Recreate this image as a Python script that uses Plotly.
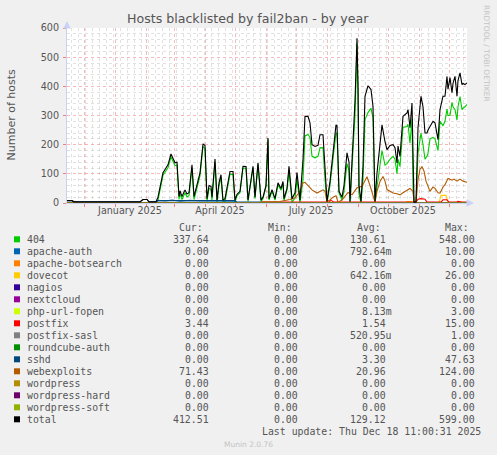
import datetime as dt
import plotly.graph_objects as go

# ---------------- data ----------------
START = dt.datetime(2024, 11, 14)
SPAN_DAYS = 400

field_names = ["404", "apache-auth", "apache-botsearch", "dovecot", "nagios", "nextcloud",
               "php-url-fopen", "postfix", "postfix-sasl", "roundcube-auth", "sshd",
               "webexploits", "wordpress", "wordpress-hard", "wordpress-soft", "total"]
field_colors = ["#00CC00", "#0066B3", "#FF8000", "#FFCC00", "#330099", "#990099",
                "#CCFF00", "#FF0000", "#808080", "#008F00", "#00487D",
                "#B35A00", "#B38F00", "#6B006B", "#8FB300", "#000000"]
cur_vals = ["337.64", "0.00", "0.00", "0.00", "0.00", "0.00", "0.00", "3.44", "0.00",
            "0.00", "0.00", "71.43", "0.00", "0.00", "0.00", "412.51"]
min_vals = ["0.00"] * 16
avg_vals = ["130.61", "792.64m", "0.00", "642.16m", "0.00", "0.00", "8.13m", "1.54",
            "520.95u", "0.00", "3.30", "20.96", "0.00", "0.00", "0.00", "129.12"]
max_vals = ["548.00", "10.00", "0.00", "26.00", "0.00", "0.00", "3.00", "15.00", "1.00",
            "0.00", "47.63", "124.00", "0.00", "0.00", "0.00", "599.00"]

# day offsets (from START) shared by total and 404
main_days = [0, 5, 7, 73, 76, 80, 82, 89, 91, 96, 101, 104, 108, 110, 112, 113, 115, 118, 120,
             122, 125, 127, 133, 136, 138, 140, 142, 144, 145, 148, 150, 152, 154, 156, 158,
             163, 166, 168, 170, 173, 176, 179, 181, 185, 186, 188, 191, 194, 196, 199, 201,
             202, 205, 208, 211, 214, 216, 217, 220, 222, 225, 228, 230, 233, 236, 238, 241,
             243, 245, 248, 251, 253, 256, 258, 260, 263, 266, 269, 270, 272, 275, 277, 280,
             282, 283, 286, 288, 290, 291, 292, 294, 296, 298, 301, 304, 306, 308, 310, 313,
             315, 318, 320, 323, 326, 328, 330, 331, 333, 336, 338, 340, 341, 343, 345, 346,
             347, 349, 351, 354, 356, 358, 360, 361, 363, 366, 368, 370, 371, 373, 376, 378,
             380, 381, 383, 385, 386, 388, 390, 391, 393, 395, 396, 398, 400]
total_vals = [8, 8, 4, 4, 12, 12, 4, 4, 20, 104, 131, 168, 138, 140, 22, 42, 22, 45, 31,
              35, 131, 22, 103, 203, 197, 15, 60, 57, 20, 151, 10, 69, 97, 10, 15,
              108, 108, 10, 30, 40, 126, 125, 10, 91, 126, 20, 138, 10, 20, 60, 223,
              15, 46, 15, 69, 50, 74, 15, 50, 126, 15, 35, 104, 10, 148, 297, 297,
              275, 200, 194, 198, 234, 234, 121, 5, 74, 183, 268, 265, 40, 20, 60, 172,
              140, 5, 200, 350, 565, 400, 60, 5, 126, 366, 402, 389, 331, 5, 103, 200,
              268, 210, 183, 197, 200, 190, 137, 195, 160, 297, 302, 309, 320, 258, 343, 100,
              3, 3, 258, 366, 330, 240, 240, 250, 263, 280, 275, 240, 217, 320, 366, 366,
              434, 390, 430, 378, 410, 434, 366, 420, 446, 406, 410, 406, 412]
n404_vals = [0, 0, 0, 0, 0, 0, 0, 0, 10, 95, 121, 158, 128, 130, 12, 32, 12, 35, 21,
             25, 121, 12, 93, 193, 187, 5, 50, 47, 10, 141, 2, 59, 87, 2, 5,
             98, 98, 3, 25, 35, 120, 119, 5, 86, 121, 15, 133, 5, 15, 55, 218,
             10, 40, 10, 63, 44, 68, 8, 44, 112, 3, 17, 80, 0, 80, 230, 235,
             225, 160, 155, 160, 189, 190, 80, 0, 62, 160, 240, 240, 35, 10, 40, 135,
             110, 0, 170, 300, 548, 380, 30, 0, 80, 286, 310, 325, 290, 0, 55, 125,
             180, 130, 135, 150, 160, 150, 100, 150, 125, 260, 260, 262, 270, 205, 290, 55,
             0, 0, 170, 240, 200, 150, 160, 170, 220, 225, 220, 190, 180, 280, 265, 280,
             322, 300, 300, 345, 330, 320, 285, 330, 365, 320, 325, 330, 338]

apache_auth_days = [0, 89, 91, 98, 105, 113, 123, 133, 143, 158, 168, 169, 400]
apache_auth_vals = [0, 0, 9, 7, 10, 6, 9, 7, 8, 6, 6, 0, 0]

sshd_days = [0, 5, 7, 73, 76, 80, 82, 89, 90, 168, 170, 194, 196, 400]
sshd_vals = [8, 8, 4, 4, 12, 12, 4, 4, 8, 8, 3, 3, 0, 0]

web_days = [0, 194, 195, 213, 223, 228, 233, 236, 238, 241, 245, 250, 253, 256, 258, 260,
            263, 266, 269, 271, 275, 278, 281, 285, 290, 295, 298, 300, 303, 306, 308, 310,
            313, 316, 318, 320, 323, 326, 330, 333, 336, 340, 343, 346, 347, 349, 351, 353,
            355, 357, 359, 363, 366, 368, 371, 373, 376, 378, 381, 385, 387, 390, 393, 396,
            399, 400]
web_vals = [0, 0, 4, 5, 12, 18, 40, 69, 71, 60, 45, 34, 40, 45, 40, 5,
            10, 20, 25, 3, 10, 25, 36, 28, 52, 57, 80, 90, 60, 30, 3, 40,
            74, 91, 75, 46, 40, 34, 32, 28, 35, 45, 50, 40, 2, 2, 80, 116,
            124, 110, 75, 40, 55, 50, 35, 34, 55, 63, 84, 78, 82, 75, 82, 75,
            71, 71]

postfix_days = [0, 7, 8, 9, 194, 195, 262, 264, 267, 349, 351, 354, 358, 360, 374, 376,
                380, 382, 389, 391, 394, 400]
postfix_vals = [0, 0, 5, 0, 0, 3, 3, 9, 3, 3, 13, 15, 13, 3, 3, 11,
                11, 3, 3, 6, 3, 3.44]

dovecot_days = [0, 338, 340, 344, 346, 372, 374, 379, 381, 390, 392, 394, 396, 400]
dovecot_vals = [0, 0, 5, 5, 0, 0, 26, 26, 0, 0, 5, 5, 0, 0]

zero_days = [0, 400]
zero_vals = [0, 0]

series_data = {
    "404": (main_days, n404_vals),
    "apache-auth": (apache_auth_days, apache_auth_vals),
    "apache-botsearch": (zero_days, zero_vals),
    "dovecot": (dovecot_days, dovecot_vals),
    "nagios": (zero_days, zero_vals),
    "nextcloud": (zero_days, zero_vals),
    "php-url-fopen": (zero_days, zero_vals),
    "postfix": (postfix_days, postfix_vals),
    "postfix-sasl": (zero_days, zero_vals),
    "roundcube-auth": (zero_days, zero_vals),
    "sshd": (sshd_days, sshd_vals),
    "webexploits": (web_days, web_vals),
    "wordpress": (zero_days, zero_vals),
    "wordpress-hard": (zero_days, zero_vals),
    "wordpress-soft": (zero_days, zero_vals),
    "total": (main_days, total_vals),
}

month_labels = ["January 2025", "April 2025", "July 2025", "October 2025"]
month_label_dates = ["2025-01-16", "2025-04-16", "2025-07-16", "2025-10-16"]

# ---------------- figure ----------------
W, H = 497, 455
L, R, T, B = 67, 30, 28, 252
PW, PH = W - L - R, H - T - B


def px(x):
    return (x - L) / PW


def py(y):
    return (H - B - y) / PH


def d2x(d):
    return START + dt.timedelta(days=d)


fig = go.Figure()
for name, color in zip(field_names, field_colors):
    days, vals = series_data[name]
    fig.add_trace(go.Scatter(x=[d2x(d) for d in days], y=vals, mode="lines",
                             line=dict(color=color, width=1.1), name=name,
                             hoverinfo="skip"))
# invisible trace to carry the label axis
fig.add_trace(go.Scatter(x=[d2x(0)], y=[None], xaxis="x2", mode="lines",
                         showlegend=False, hoverinfo="skip"))

xr = [d2x(0), d2x(SPAN_DAYS)]
grid_major = "rgba(240,130,130,0.55)"
grid_minor = "rgba(180,180,180,0.40)"
axis_col = "#C9D2F5"
txt = "#555555"

fig.update_layout(
    width=W, height=H,
    margin=dict(l=L, r=R, t=T, b=B, pad=0),
    paper_bgcolor="#F0F0F0", plot_bgcolor="#FFFFFF",
    showlegend=False,
    font=dict(family="DejaVu Sans", color=txt, size=10),
    xaxis=dict(type="date", range=xr, tickmode="linear", tick0="2024-12-01", dtick="M1",
               showticklabels=False, showgrid=True, gridcolor=grid_major, griddash="dot",
               gridwidth=1, ticks="outside", ticklen=3, tickcolor="#F08080",
               showline=True, linecolor=axis_col, linewidth=1, zeroline=False,
               minor=dict(tick0="2024-11-18", dtick=7 * 86400000, showgrid=True,
                          gridcolor=grid_minor, griddash="dot", gridwidth=1)),
    xaxis2=dict(type="date", range=xr, overlaying="x", anchor="y", side="bottom",
                tickmode="array", tickvals=month_label_dates, ticktext=month_labels,
                showgrid=False, showline=False, zeroline=False, ticks="",
                tickfont=dict(family="DejaVu Sans", size=9.6, color=txt)),
    yaxis=dict(range=[0, 600], tickmode="linear", tick0=0, dtick=100,
               showgrid=True, gridcolor=grid_major, griddash="dot", gridwidth=1,
               ticks="outside", ticklen=3, tickcolor="#F08080",
               showline=True, linecolor=axis_col, linewidth=1, zeroline=False,
               tickfont=dict(family="DejaVu Sans", size=9.6, color=txt),
               ticklabelstandoff=2,
               minor=dict(tick0=0, dtick=20, showgrid=True, gridcolor=grid_minor,
                          griddash="dot", gridwidth=1)),
)

ann = []
# title
ann.append(dict(text="Hosts blacklisted by fail2ban - by year", x=px(247.5), y=py(18.5),
                xref="paper", yref="paper", showarrow=False, xanchor="center",
                yanchor="middle", font=dict(family="DejaVu Sans", size=12.6, color=txt)))
# y axis title
ann.append(dict(text="Number of hosts", x=px(10.5), y=py(115), xref="paper", yref="paper",
                showarrow=False, textangle=-90, xanchor="center", yanchor="middle",
                font=dict(family="DejaVu Sans", size=11, color=txt)))
# vertical rrdtool credit
ann.append(dict(text="RRDTOOL / TOBI OETIKER", x=px(487), y=py(53), xref="paper",
                yref="paper", showarrow=False, textangle=90, xanchor="center",
                yanchor="middle", font=dict(family="DejaVu Sans", size=7.5, color="#C4C4C4")))
# axis arrows
ann.append(dict(x=px(67), y=py(21), xref="paper", yref="paper", ax=0, ay=8, text="",
                showarrow=True, arrowhead=2, arrowsize=1, arrowwidth=1.5,
                arrowcolor=axis_col))
ann.append(dict(x=px(474), y=py(203), xref="paper", yref="paper", ax=-8, ay=0, text="",
                showarrow=True, arrowhead=2, arrowsize=1, arrowwidth=1.5,
                arrowcolor=axis_col))

mono = dict(family="DejaVu Sans Mono", size=9.85, color=txt)
hdr_y = 227.7
for label, xr_ in zip(["Cur:", "Min:", "Avg:", "Max:"], [204.5, 293.5, 382.5, 471]):
    ann.append(dict(text=label, x=px(xr_), y=py(hdr_y), xref="paper", yref="paper",
                    showarrow=False, xanchor="right", yanchor="middle", font=mono))

shapes = []
row0, step = 239.3, 12.0
for i, name in enumerate(field_names):
    yc = row0 + step * i
    shapes.append(dict(type="rect", xref="paper", yref="paper",
                       x0=px(14), x1=px(20), y0=py(yc + 3), y1=py(yc - 3),
                       fillcolor=field_colors[i], line=dict(width=0)))
    ann.append(dict(text=name, x=px(25), y=py(yc), xref="paper", yref="paper",
                    showarrow=False, xanchor="left", yanchor="middle", font=mono))
    for val, xr_ in ((cur_vals[i], 211), (min_vals[i], 299.7)):
        ann.append(dict(text=val, x=px(xr_), y=py(yc), xref="paper", yref="paper",
                        showarrow=False, xanchor="right", yanchor="middle", font=mono))
    a = avg_vals[i]
    a_txt = a if a[-1] in "mu" else a + "\u00a0"
    ann.append(dict(text=a_txt, x=px(394.4), y=py(yc), xref="paper", yref="paper",
                    showarrow=False, xanchor="right", yanchor="middle", font=mono))
    ann.append(dict(text=max_vals[i], x=px(477), y=py(yc), xref="paper", yref="paper",
                    showarrow=False, xanchor="right", yanchor="middle", font=mono))

ann.append(dict(text="Last update: Thu Dec 18 11:00:31 2025", x=px(482.5), y=py(431.3),
                xref="paper", yref="paper", showarrow=False, xanchor="right",
                yanchor="middle", font=mono))
ann.append(dict(text="Munin 2.0.76", x=px(248), y=py(444.3), xref="paper", yref="paper",
                showarrow=False, xanchor="center", yanchor="middle",
                font=dict(family="DejaVu Sans", size=7.5, color="#C4C4C4")))

fig.update_layout(annotations=ann, shapes=shapes)
fig.write_html("out.html",
               config={"displayModeBar": False, "staticPlot": True},
               post_script="document.body.style.margin='0';"
                           "document.body.style.background='#F0F0F0';")
